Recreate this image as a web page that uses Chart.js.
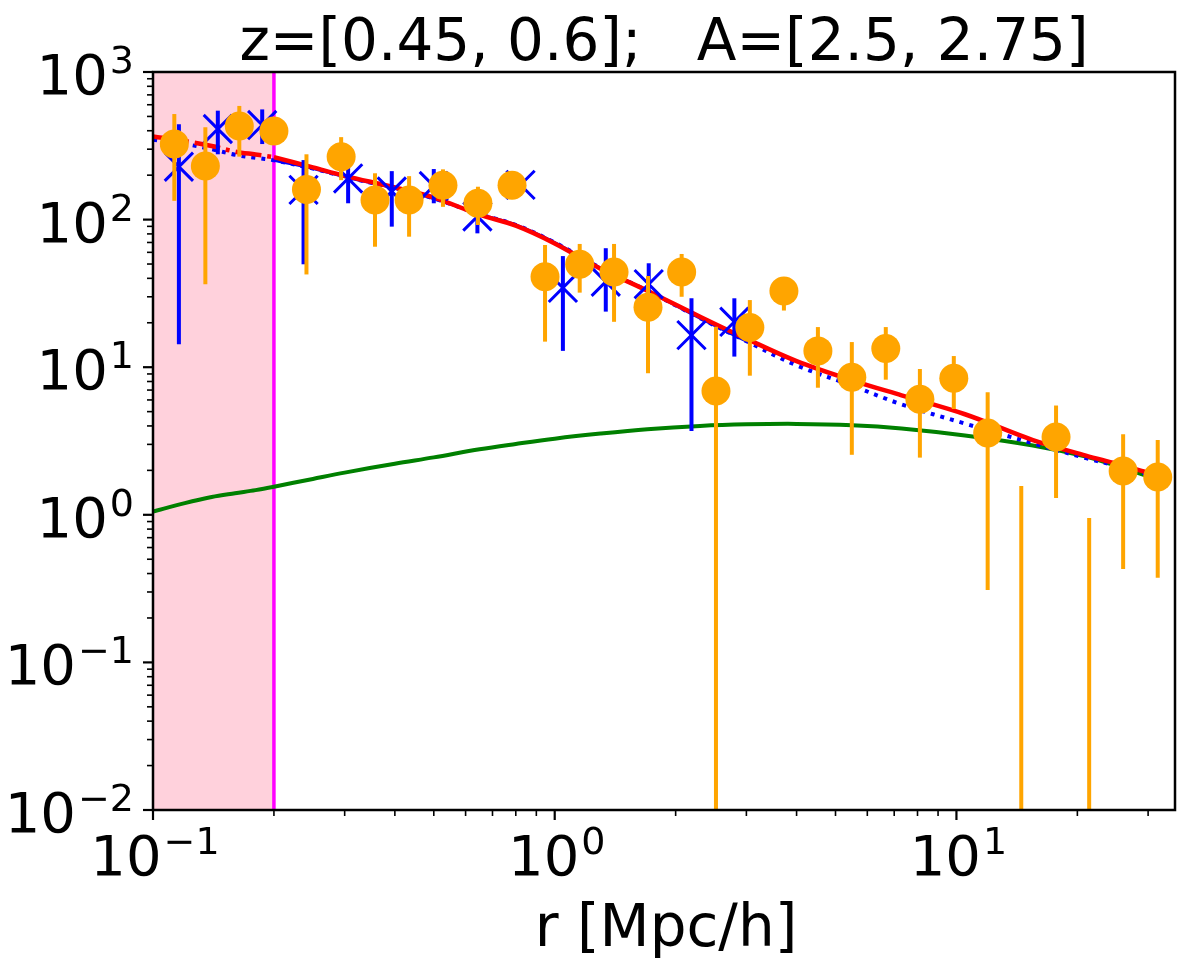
<!DOCTYPE html>
<html>
<head>
<meta charset="utf-8">
<script src="https://cdn.jsdelivr.net/npm/chart.js@4.4.1/dist/chart.umd.min.js"></script>
<style>
  html, body { margin: 0; padding: 0; background: #fff; }
  canvas { display: block; }
</style>
</head>
<body>
<canvas id="grafico" width="1190" height="960"></canvas>
<script>
// Datos
const titulo = 'z=[0.45, 0.6];   A=[2.5, 2.75]';
const etiquetaX = 'r [Mpc/h]';

// medidas naranjas (círculos)
const rNaranja = [0.113, 0.135, 0.164, 0.200, 0.241, 0.294, 0.357, 0.434, 0.527, 0.644,
                  0.783, 0.946, 1.154, 1.405, 1.707, 2.07, 2.52, 3.06, 3.72, 4.52,
                  5.49, 6.67, 8.11, 9.85, 11.96, 14.5, 17.7, 21.4, 26.0, 31.7];
const wNaranja = [325, 231, 430, 398, 160, 267, 136, 136, 171, 129,
                  171, 41, 49.8, 44.2, 25.5, 44.2, 6.9, 18.6, 32.8, 12.9,
                  8.55, 13.4, 6.06, 8.41, 3.58, null, 3.37, null, 1.98, 1.80];
const altoNaranja = [519, 422, 589, 460, 277, 362, 206, 197, 219, 167,
                     200, 67.3, 68.4, 68.4, 41.5, 58.5, 18.8, 28.5, 40, 18.7,
                     14.8, 18.7, 9.72, 11.9, 6.76, 1.57, 5.5, 0.95, 3.52, 3.21];
// -1 = límite inferior negativo (se sale del eje)
const bajoNaranja = [134, 36.5, 267, 345, 42.5, 185, 65.5, 76.6, 122, 91.9,
                     146, 14.9, 32, 20.3, 9.1, 30, -1, 8.76, 24.2, 7.26,
                     2.55, 8.23, 2.44, 5.21, 0.31, -1, 1.3, -1, 0.43, 0.375];

// medidas azules (cruces)
const rAzul = [0.116, 0.145, 0.187, 0.237, 0.306, 0.393, 0.500, 0.642, 0.822, 1.048,
               1.34, 1.714, 2.19, 2.80];
const wAzul = [228, 411, 437, 159, 190, 155, 169, 105, 172, 34.5,
               37.9, 36.5, 16.5, 20.3];
const altoAzul = [442, 547, 558, 253, 240, 213, 220, 135, 195, 56.6,
                  64, 50.6, 29.3, 29.3];
const bajoAzul = [14.3, 277, 325, 49.8, 129, 89.6, 129, 80.7, 150, 12.9,
                  23.8, 30, 3.7, 11.8];

// modelos
const rModelo = [0.1, 0.12, 0.14, 0.16, 0.18, 0.2, 0.25, 0.3, 0.4, 0.5,
                 0.65, 0.8, 1.0, 1.3, 1.7, 2.3, 3.0, 4.0, 5.5, 7.3,
                 10.5, 15.5, 21, 25, 29.5, 33];
const modeloRojo = [366, 341, 315, 289, 276, 265, 226, 198, 165, 141,
                    108, 91, 69, 46.5, 33, 22, 15.6, 11.0, 8.15, 6.45,
                    4.8, 3.21, 2.52, 2.22, 1.95, 1.78];
const modeloAzul = [347, 325, 300, 275, 262, 252, 222, 195, 163, 139,
                    109, 92, 70, 47, 33, 21.5, 15.0, 10.3, 7.5, 5.6,
                    4.15, 3.05, 2.42, 2.15, 1.9, 1.75];
const modeloVerde = [1.05, 1.2, 1.32, 1.4, 1.47, 1.55, 1.75, 1.93, 2.22, 2.45,
                     2.78, 3.02, 3.28, 3.55, 3.8, 4.0, 4.1, 4.13, 4.05, 3.85,
                     3.45, 2.95, 2.48, 2.15, 1.85, 1.65];

// ejes
const ticksX = [0.1, 1, 10];
const etiquetasX = [['10', '−1'], ['10', '0'], ['10', '1']];
const ticksY = [0.01, 0.1, 1, 10, 100, 1000];
const etiquetasY = [['10', '−2'], ['10', '−1'], ['10', '0'], ['10', '1'], ['10', '2'], ['10', '3']];
const limX = [0.1, 35];
const limY = [0.01, 1000];
const corte = 0.2;      // zona excluida (rosa)
const finAzul = 3.0;    // fin del ajuste azul

const puntos = (xs, ys) => xs.map((r, i) => ({ x: r, y: ys[i] }));
const tramo = (ys, cond) => rModelo.map((r, i) => ({ x: r, y: ys[i] })).filter(p => cond(p.x));

const FUENTE = "'DejaVu Sans', 'Liberation Sans', sans-serif";

// Barras de error
const barrasError = {
    id: 'barrasError',
    beforeDatasetDraw(chart, args) {
        const ds = chart.data.datasets[args.index];
        if (!ds.errAlto) return;
        const { ctx, chartArea, scales: { x, y } } = chart;
        ctx.save();
        ctx.beginPath();
        ctx.rect(chartArea.left, chartArea.top, chartArea.width, chartArea.height);
        ctx.clip();
        ctx.strokeStyle = ds.errColor;
        ctx.lineWidth = 4;
        ds.errR.forEach((r, i) => {
            const px = x.getPixelForValue(r);
            const arriba = y.getPixelForValue(ds.errAlto[i]);
            const abajo = ds.errBajo[i] > 0 ? y.getPixelForValue(ds.errBajo[i]) : chartArea.bottom + 5;
            ctx.beginPath();
            ctx.moveTo(px, arriba);
            ctx.lineTo(px, abajo);
            ctx.stroke();
        });
        ctx.restore();
    }
};

// Zona rosa + línea magenta
const zonaExcluida = {
    id: 'zonaExcluida',
    beforeDatasetsDraw(chart) {
        const { ctx, chartArea, scales: { x } } = chart;
        const x0 = x.getPixelForValue(limX[0]);
        const x1 = x.getPixelForValue(corte);
        ctx.save();
        ctx.fillStyle = '#FFD1DC';
        ctx.fillRect(x0, chartArea.top, x1 - x0, chartArea.height);
        ctx.strokeStyle = '#FF00FF';
        ctx.lineWidth = 3.5;
        ctx.beginPath();
        ctx.moveTo(x1, chartArea.top);
        ctx.lineTo(x1, chartArea.bottom);
        ctx.stroke();
        ctx.restore();
    }
};

// 10^n estilo matplotlib
function potencia(ctx, partes, x, yBase, alinear) {
    ctx.font = `56px ${FUENTE}`;
    const wb = ctx.measureText(partes[0]).width;
    ctx.font = `38px ${FUENTE}`;
    const we = ctx.measureText(partes[1]).width;
    const total = wb + 2 + we;
    let x0 = x;
    if (alinear === 'right') x0 = x - total;
    if (alinear === 'center') x0 = x - total / 2;
    ctx.textAlign = 'left';
    ctx.textBaseline = 'alphabetic';
    ctx.font = `56px ${FUENTE}`;
    ctx.fillText(partes[0], x0, yBase);
    ctx.font = `38px ${FUENTE}`;
    ctx.fillText(partes[1], x0 + wb + 2, yBase - 21);
}

// Marco, ticks, etiquetas y título
const ejes = {
    id: 'ejes',
    afterDraw(chart) {
        const { ctx, chartArea: a, scales: { x, y } } = chart;
        ctx.save();
        ctx.fillStyle = '#000';
        ctx.strokeStyle = '#000';

        // ticks menores y mayores
        ctx.lineWidth = 1.6;
        ticksX.forEach(d => {
            for (let k = 2; k <= 9; k++) {
                const v = d * k;
                if (v > limX[1]) break;
                const px = x.getPixelForValue(v);
                ctx.beginPath(); ctx.moveTo(px, a.bottom); ctx.lineTo(px, a.bottom + 6); ctx.stroke();
            }
        });
        ticksY.forEach(d => {
            for (let k = 2; k <= 9; k++) {
                const v = d * k;
                if (v > limY[1]) break;
                const py = y.getPixelForValue(v);
                ctx.beginPath(); ctx.moveTo(a.left - 6, py); ctx.lineTo(a.left, py); ctx.stroke();
            }
        });
        ctx.lineWidth = 2.2;
        ticksX.forEach((v, i) => {
            const px = x.getPixelForValue(v);
            ctx.beginPath(); ctx.moveTo(px, a.bottom); ctx.lineTo(px, a.bottom + 10); ctx.stroke();
            potencia(ctx, etiquetasX[i], px + 2, a.bottom + 65, 'center');
        });
        ticksY.forEach((v, i) => {
            const py = y.getPixelForValue(v);
            ctx.beginPath(); ctx.moveTo(a.left - 10, py); ctx.lineTo(a.left, py); ctx.stroke();
            potencia(ctx, etiquetasY[i], a.left - 19, py + 22, 'right');
        });

        // marco
        ctx.lineWidth = 2.5;
        ctx.strokeRect(a.left, a.top, a.width, a.height);

        // textos
        ctx.textAlign = 'center';
        ctx.textBaseline = 'alphabetic';
        ctx.font = `58px ${FUENTE}`;
        ctx.fillText(titulo, (a.left + a.right) / 2, 60);
        ctx.font = `58px ${FUENTE}`;
        ctx.fillText(etiquetaX, (a.left + a.right) / 2 + 2, 946);
        ctx.restore();
    }
};

const ctx = document.getElementById('grafico').getContext('2d');

new Chart(ctx, {
    type: 'scatter',
    data: {
        datasets: [
            {
                label: 'naranja',
                data: puntos(rNaranja, wNaranja),
                pointStyle: 'circle',
                pointRadius: 14.5,
                pointHoverRadius: 14.5,
                backgroundColor: '#FFA500',
                borderWidth: 0,
                errR: rNaranja, errAlto: altoNaranja, errBajo: bajoNaranja, errColor: '#FFA500'
            },
            {
                label: 'azul',
                data: puntos(rAzul, wAzul),
                pointStyle: 'crossRot',
                pointRadius: 20,
                pointHoverRadius: 20,
                borderColor: '#0000FF',
                pointBorderWidth: 3,
                errR: rAzul, errAlto: altoAzul, errBajo: bajoAzul, errColor: '#0000FF'
            },
            {
                label: 'rojo',
                data: tramo(modeloRojo, r => r >= corte),
                showLine: true, pointRadius: 0,
                borderColor: '#FF0000', borderWidth: 4.5, tension: 0.35
            },
            {
                label: 'rojo excluido',
                data: tramo(modeloRojo, r => r <= corte),
                showLine: true, pointRadius: 0,
                borderColor: '#FF0000', borderWidth: 4.5, tension: 0.35,
                borderDash: [26, 6, 4, 6]
            },
            {
                label: 'azul ajuste',
                data: tramo(modeloAzul, r => r >= corte && r <= finAzul),
                showLine: true, pointRadius: 0,
                borderColor: '#0000FF', borderWidth: 3, tension: 0.35
            },
            {
                label: 'azul extrapolado',
                data: tramo(modeloAzul, () => true),
                showLine: true, pointRadius: 0,
                borderColor: '#0000FF', borderWidth: 4, tension: 0.35,
                borderDash: [4, 6]
            },
            {
                label: 'verde',
                data: puntos(rModelo, modeloVerde),
                showLine: true, pointRadius: 0,
                borderColor: '#008000', borderWidth: 4, tension: 0.35
            }
        ]
    },
    options: {
        responsive: false,
        devicePixelRatio: 1,
        animation: false,
        events: [],
        layout: { autoPadding: false, padding: { left: 153, right: 15, top: 72, bottom: 150 } },
        scales: {
            x: { type: 'logarithmic', min: limX[0], max: limX[1], display: false },
            y: { type: 'logarithmic', min: limY[0], max: limY[1], display: false }
        },
        plugins: {
            legend: { display: false },
            tooltip: { enabled: false },
            title: { display: false }
        }
    },
    plugins: [zonaExcluida, barrasError, ejes]
});
</script>
</body>
</html>
